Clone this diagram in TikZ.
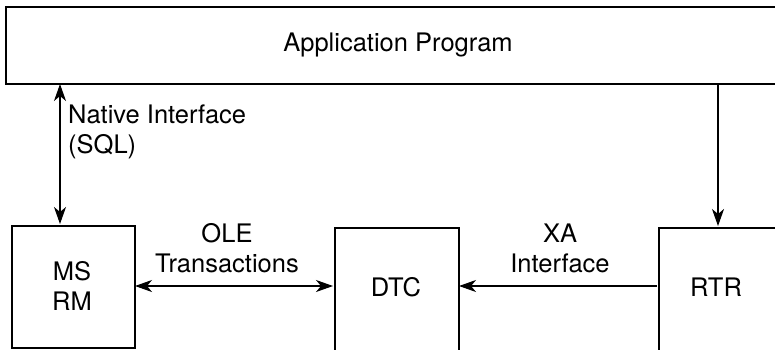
\documentclass[tikz,border=0pt]{standalone}
\usepackage{fontspec}
\setmainfont{TeX Gyre Heros}
\usetikzlibrary{arrows.meta}
\begin{document}
\begin{tikzpicture}[x=1pt,y=-1pt,
  box/.style={draw, line width=2.3pt, rectangle, inner sep=0pt},
  lbl/.style={font=\fontsize{25.5}{30}\selectfont, align=center, inner sep=0pt},
  conn/.style={line width=1.1pt, -{Stealth[length=17pt,width=12pt,inset=5pt]}},
  biconn/.style={line width=1.1pt, {Stealth[length=17pt,width=12pt,inset=5pt]}-{Stealth[length=17pt,width=12pt,inset=5pt]}}]
\useasboundingbox (0,0) rectangle (775,349);
\clip (0,0) rectangle (775,349);
% boxes
\node[box, anchor=north west, minimum width=785pt, minimum height=77pt] (app) at (5,6) {};
\node[box, anchor=north west, minimum width=123pt, minimum height=122pt] (ms) at (11,225) {};
\node[box, anchor=north west, minimum width=124pt, minimum height=140pt] (dtc) at (334,227) {};
\node[box, anchor=north west, minimum width=140pt, minimum height=140pt] (rtr) at (658,227) {};
% texts
\node[lbl] (tapp) at (398,45) {Application Program};
\node[lbl] (tms) at (72,286) {MS\\RM};
\node[lbl] (tdtc) at (396,287) {DTC};
\node[lbl] (trtr) at (716,287) {RTR};
% connectors
\coordinate (a1) at (60,84);
\coordinate (a2) at (60,224);
\draw[biconn] (a1) -- (a2);
\coordinate (b1) at (718,84);
\coordinate (b2) at (718,226);
\draw[conn] (b1) -- (b2);
\coordinate (c1) at (135,286);
\coordinate (c2) at (333,286);
\draw[biconn] (c1) -- (c2);
\coordinate (d1) at (657,286);
\coordinate (d2) at (459,286);
\draw[conn] (d1) -- (d2);
% connector labels
\node[lbl, align=left, anchor=west] (lnat) at (68,132) {Native Interface\\(SQL)};
\node[lbl] (lole) at (227,248) {OLE\\Transactions};
\node[lbl] (lxa) at (560,248) {XA\\Interface};
\end{tikzpicture}
\end{document}
